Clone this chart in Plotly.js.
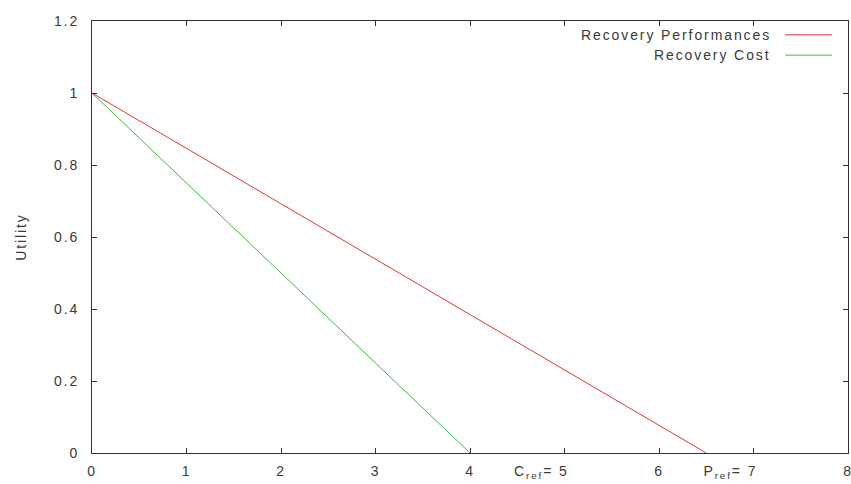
<!DOCTYPE html>
<html>
<head>
<meta charset="utf-8">
<script src="https://cdn.plot.ly/plotly-3.0.1.min.js"></script>
<style>
html,body{margin:0;padding:0;background:#fff;}
#chart{width:851px;height:484px;}
text{letter-spacing:1.9px;}
</style>
</head>
<body>
<div id="chart"></div>
<script>
const seriesNames = ["Recovery Performances", "Recovery Cost"];
const perfX = [0, 6.5];
const perfY = [1, 0];
const costX = [0, 4];
const costY = [1, 0];
const xTickVals = [0, 1, 2, 3, 4, 5, 6, 7, 8];
const xTickText = ["0", "1", "2", "3", "4", "C<sub>ref</sub>= 5", "6", "P<sub>ref</sub>= 7", "8"];
const yTickVals = [0, 0.2, 0.4, 0.6, 0.8, 1, 1.2];
const yTickText = ["0", "0.2", "0.4", "0.6", "0.8", "1", "1.2"];
const colors = ["#e03434", "#3cba3c"];

const font = {family: "Liberation Sans, Arial, sans-serif", size: 14, color: "#3a3a3a"};

// labels with a prefix are anchored on their last character, as in the reference
const pad = "\u00a0".repeat(8);
const xTickShown = xTickText.map(t => t.length > 2 ? t + pad : t);

const traces = [
  {x: perfX, y: perfY, mode: "lines", name: seriesNames[0], line: {color: colors[0], width: 1}},
  {x: costX, y: costY, mode: "lines", name: seriesNames[1], line: {color: colors[1], width: 1}}
];

const legendY = [0.968, 0.921];
const annotations = seriesNames.map((n, i) => ({
  xref: "paper", yref: "paper", x: 0.901, y: legendY[i], xanchor: "right", yanchor: "middle",
  text: n, showarrow: false, font: font
}));
const shapes = seriesNames.map((n, i) => ({
  type: "line", xref: "paper", yref: "paper", x0: 0.917, x1: 0.979, y0: legendY[i], y1: legendY[i],
  line: {color: colors[i], width: 1}
}));

const layout = {
  width: 851, height: 484,
  margin: {l: 92, r: 3, t: 21, b: 31},
  paper_bgcolor: "#fff", plot_bgcolor: "#fff",
  showlegend: false,
  font: font,
  xaxis: {
    range: [0, 8], tickvals: xTickVals, ticktext: xTickShown,
    ticks: "inside", ticklen: 5, tickcolor: "#333", showgrid: false, zeroline: false,
    showline: true, linecolor: "#333", linewidth: 1, mirror: "ticks", tickfont: font,
    ticklabeloverflow: "allow", ticklabelstandoff: 5
  },
  yaxis: {
    range: [0, 1.2], tickvals: yTickVals, ticktext: yTickText,
    ticks: "inside", ticklen: 5, tickcolor: "#333", showgrid: false, zeroline: false,
    showline: true, linecolor: "#333", linewidth: 1, mirror: "ticks", tickfont: font,
    ticklabelstandoff: 9,
    title: {text: "Utility", font: font, standoff: 24}
  },
  annotations: annotations,
  shapes: shapes
};

Plotly.newPlot("chart", traces, layout, {displayModeBar: false, staticPlot: true});
</script>
</body>
</html>
